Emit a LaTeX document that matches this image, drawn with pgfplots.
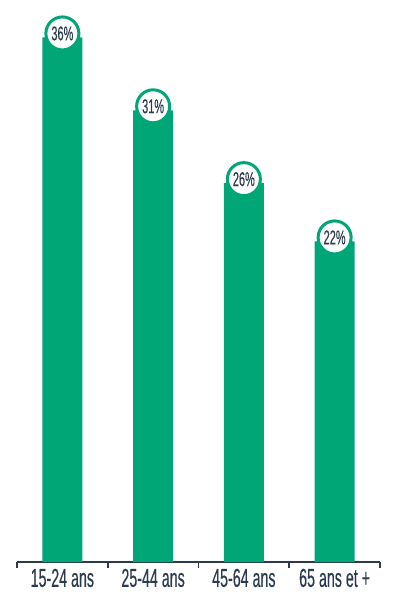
\documentclass[border=0pt]{standalone}
\usepackage{fontspec}
\setmainfont{Liberation Sans}[FakeStretch=0.55, FakeBold=0.3]
\usepackage{pgfplots}
\pgfplotsset{compat=1.18}
\definecolor{bargreen}{HTML}{00A676}
\definecolor{navy}{HTML}{2B3A4E}

\begin{document}
\begin{tikzpicture}
\begin{axis}[
    scale only axis,
    width=363bp, height=562bp,
    xmin=-0.5, xmax=3.5,
    ymin=0, ymax=38.57,
    axis x line=bottom,
    axis y line=none,
    x axis line style={-, line width=1.6bp, navy},
    xtick={0,1,2,3},
    xticklabels={15-24 ans, 25-44 ans, 45-64 ans, 65 ans et +},
    major x tick style={draw=none},
    minor xtick={-0.5,0.5,1.5,2.5,3.5},
    minor x tick style={line width=1.6bp, navy},
    tick align=outside,
    minor tick length=6bp,
    xticklabel style={font=\fontsize{26}{27}\selectfont, text=navy, yshift=1bp},
    clip=false,
    /pgf/number format/assume math mode=true,
    nodes near coords={\pgfmathprintnumber{\pgfplotspointmeta}\%},
    nodes near coords style={anchor=center, yshift=4bp, circle, fill=white,
        draw=bargreen, line width=3bp, minimum size=33bp, inner sep=0pt,
        text=navy, font=\fontsize{20}{20}\selectfont},
]
\addplot[ybar, bar width=40bp, fill=bargreen, draw=none]
    coordinates {(0,36) (1,31) (2,26) (3,22)};
\end{axis}
\pgfresetboundingbox
\path (-17bp,-52bp) rectangle (383bp,562bp);
\end{tikzpicture}
\end{document}
